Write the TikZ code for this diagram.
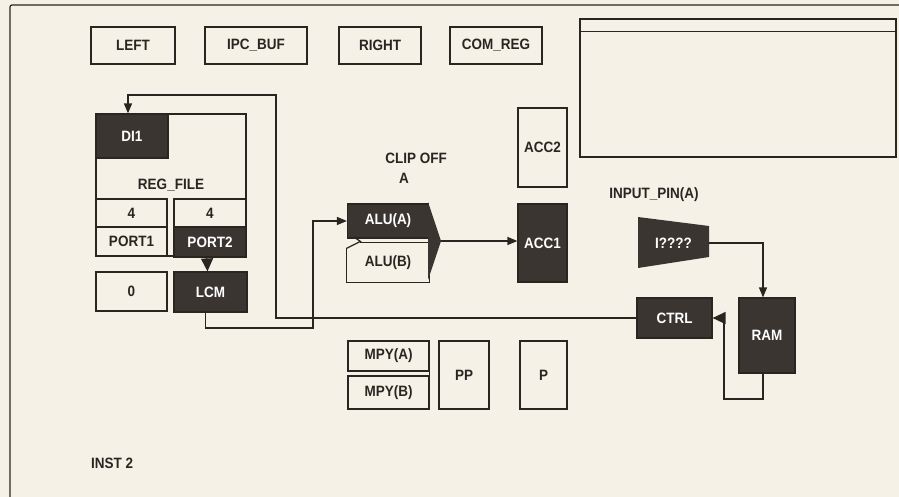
\documentclass[tikz,border=0pt]{standalone}
\usepackage{fontspec}
\newfontfamily\lblfont[FakeStretch=0.9]{Liberation Sans Bold}
\usepackage{tikz}
\usetikzlibrary{arrows.meta,positioning,calc}

\definecolor{paper}{HTML}{F6F1E7}
\definecolor{ink}{HTML}{2B2522}
\definecolor{dk}{HTML}{3B3532}
\newcommand{\lbl}{\lblfont\fontsize{15}{17}\selectfont}

\tikzset{
  blk/.style={draw=ink, line width=1.2pt, fill=paper, text=ink, inner sep=0pt, font=\lbl},
  dblk/.style={blk, fill=dk, text=white},
  sz/.style 2 args={minimum width=#1pt, minimum height=#2pt},
  txt/.style={text=ink, inner sep=0pt, font=\lbl},
  wire/.style={draw=ink, line width=1.3pt},
  tip/.style={-{Triangle[length=10pt,width=8pt]}},
  widetip/.style={-{Triangle[length=13pt,width=12pt]}},
}

\begin{document}
\begin{tikzpicture}[x=1pt, y=-1pt]
    % Sheet
    \fill[paper] (0,0) rectangle (899,497);
    \useasboundingbox (0,0) rectangle (899,497);
    \draw[ink, line width=1.2pt, rounded corners=2pt] (10,497) -- (10,5) -- (899,5);

    % Top row
    \node[blk, sz={84}{37}] (left) at (133,45.5) {LEFT};
    \node[blk, sz={102}{37}] (ipcbuf) at (256,45.5) {IPC\_BUF};
    \node[blk, sz={82}{37}] (right) at (380,45.5) {RIGHT};
    \node[blk, sz={92}{37}] (comreg) at (496,45.5) {COM\_REG};

    % Panel
    \node[blk, sz={316}{138}] (panel) at (738,88) {};
    \draw[ink, line width=1.2pt] ($(panel.north west)+(0,13)$) -- ($(panel.north east)+(0,13)$);

    % Register file
    \node[blk, sz={150}{142}] (regfile) at (171,185) {REG\_FILE};
    \node[dblk, sz={72}{44}] (di1) at (132,136) {DI1};
    \node[blk, sz={71}{28}] (cnt1) at (131.5,213) {4};
    \node[blk, sz={71}{29}] (port1) at (131.5,241.5) {PORT1};
    \node[blk, sz={72}{28}] (cnt2) at (210,213) {4};
    \node[dblk, sz={72}{30}] (port2) at (210,242) {PORT2};
    \node[blk, sz={71}{39}] (zero) at (131.5,291.5) {0};
    \node[dblk, sz={73}{40}] (lcm) at (210.5,292) {LCM};

    % ALU
    \node[txt] (clip) at (416,158) {CLIP OFF};
    \node[txt] (clipa) at (404,178) {A};
    \node[dblk, sz={81}{34}] (alua) at (388,221) {ALU(A)};
    \node[blk, draw=none, sz={82}{39}] (alub) at (388,262.5) {ALU(B)};
    \draw[ink, line width=1.2pt] ([yshift=-6pt]alub.north west) -- (alub.south west) -- (alub.south east) -- (alub.north east) -- ([xshift=14pt]alub.north west);
    \draw[ink, line width=1.2pt] ([yshift=-6pt]alub.north west) -- ([xshift=14pt,yshift=1pt]alub.north west) -- ([xshift=8pt,yshift=5pt]alub.north west);
    \fill[dk] (428,202) -- (441,241) -- (428,280) -- cycle;
    \coordinate (muxout) at (441,241);

    % Accumulators
    \node[blk, sz={49}{79}] (acc2) at (542.5,147.5) {ACC2};
    \node[dblk, sz={49}{78}] (acc1) at (542.5,243) {ACC1};

    % Multiplier
    \node[blk, sz={81}{30}] (mpya) at (388.5,356) {MPY(A)};
    \node[blk, sz={81}{33}] (mpyb) at (388.5,392.5) {MPY(B)};
    \draw[ink, line width=1.2pt] (mpya.north east) -- (mpyb.south east);
    \node[blk, sz={50}{68}] (pp) at (464,375) {PP};
    \node[blk, sz={47}{68}] (p) at (543.5,375) {P};

    % Input and memory
    \node[txt] (inpin) at (654,195) {INPUT\_PIN(A)};
    \fill[dk] (638,217) -- (709,226) -- (709,257) -- (638,268) -- cycle;
    \node[txt, text=white, sz={71}{20}] (ipin) at (673.5,243) {I????};
    \node[dblk, sz={75}{40}] (ctrl) at (674.5,318) {CTRL};
    \node[dblk, sz={56}{75}] (ram) at (767,335.5) {RAM};

    \node[txt, anchor=west] (inst) at (91,463) {INST 2};

    % Connectors
    \coordinate (fbk) at (276,95);
    \draw[wire, tip] (ctrl.west) -| (fbk) -| ([xshift=-4pt]di1.north);
    \coordinate (lnk) at (313,328);
    \draw[wire, tip] ([xshift=-5pt]lcm.south) |- (lnk) |- (alua.west);
    \draw[wire, widetip] ([xshift=-3pt]port2.south) -- ([xshift=-3pt]lcm.north);
    \draw[wire, tip] (muxout) -- (muxout -| acc1.west);
    \draw[wire, tip] (ipin.east) -| ([xshift=-4pt]ram.north);
    \coordinate (rtn) at (724,399);
    \draw[wire, widetip] ([xshift=-4pt]ram.south) |- (rtn) |- (ctrl.east);
\end{tikzpicture}
\end{document}
